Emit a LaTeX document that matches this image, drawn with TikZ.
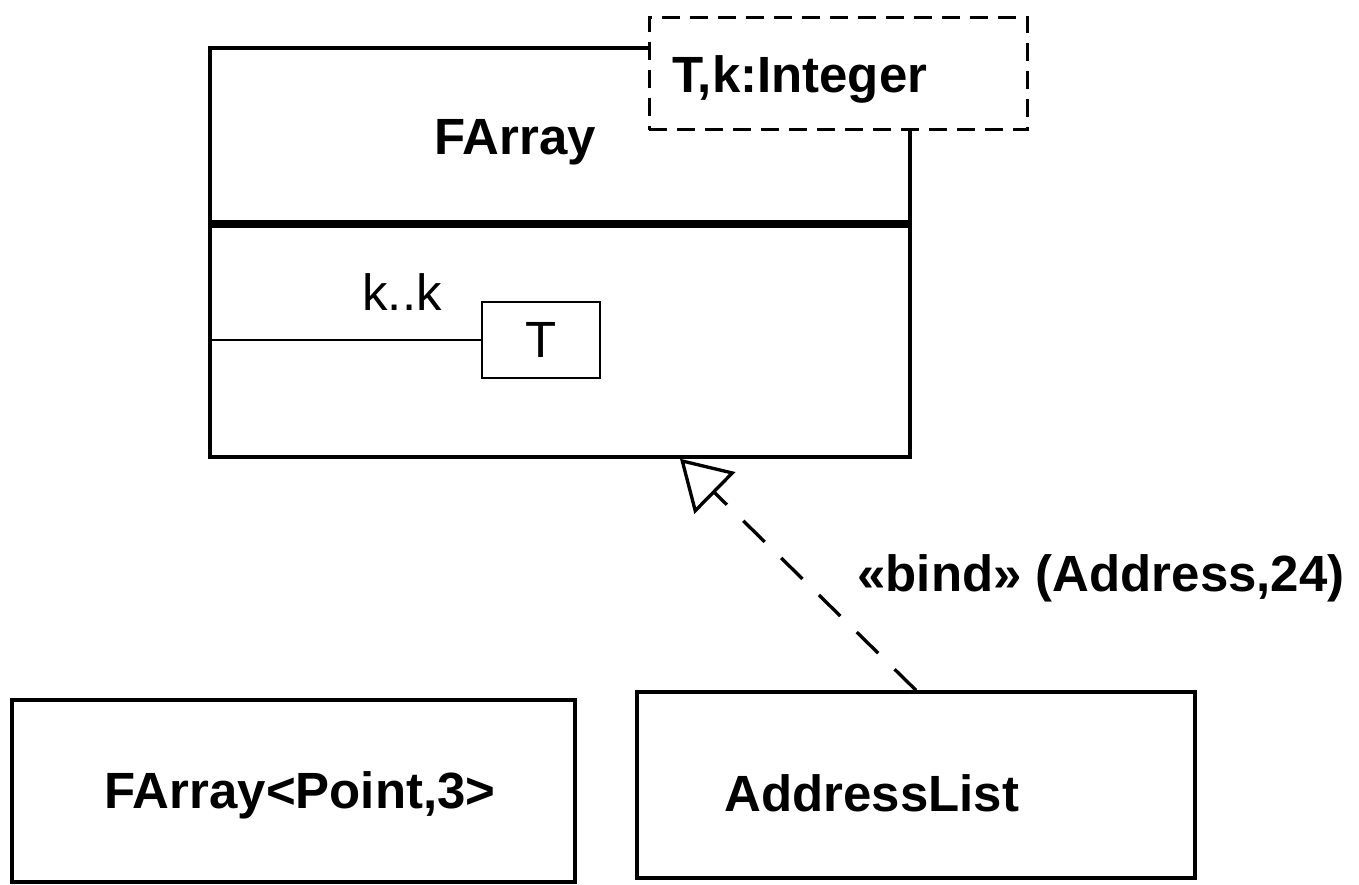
\documentclass[tikz,border=0pt]{standalone}
\usepackage{fontspec}
\setmainfont{Liberation Sans}
\usetikzlibrary{arrows.meta, positioning}

\tikzset{
  classbox/.style={draw, line width=2pt, inner sep=0pt},
  parambox/.style={draw, line width=1.7pt, dash pattern=on 0.36cm off 0.2cm, fill=white, inner sep=0pt},
  partbox/.style={draw, line width=1.5pt, inner sep=0pt},
  divider/.style={line width=4pt},
  boldtext/.style={font=\fontsize{29}{34}\selectfont\bfseries, inner sep=0pt},
  plaintext/.style={font=\fontsize{29}{34}\selectfont, inner sep=0pt},
  realize/.style={line width=1.9pt, dash pattern=on 0.6cm off 0.46cm,
    -{Triangle[open, length=0.98cm, width=1.16cm, line width=1.9pt]}}
}

\begin{document}
\begin{tikzpicture}[x=0.02cm, y=-0.02cm]
    \useasboundingbox (0,0) rectangle (1359,885);

    % template class
    \node [classbox, minimum width=14cm, minimum height=8.18cm] (FArray) at (560, 252.5) {};
    \draw [divider] (FArray.west |- 0,224) -- (FArray.east |- 0,224);
    \node [boldtext] (FArrayName) at (515, 142) {FArray};

    \node [parambox, minimum width=7.58cm, minimum height=2.26cm] (Params) at (838.5, 73.5) {};
    \node [boldtext, anchor=west] (ParamText) at (672, 79) {T,k:Integer};

    % part T
    \node [partbox, minimum width=2.36cm, minimum height=1.52cm] (PartT) at (541, 340) {};
    \node [plaintext] (PartName) at (PartT) {T};
    \node [plaintext] (Mult) at (402, 292) {k..k};
    \draw [line width=1.2pt] (FArray.west |- PartT.west) -- (PartT.west);

    % bound classes
    \node [classbox, minimum width=11.26cm, minimum height=3.64cm] (FArrayPoint) at (293.5, 791) {};
    \node [boldtext] (FArrayPointName) at (300, 795) {FArray<Point,3>};

    \node [classbox, minimum width=11.16cm, minimum height=3.72cm] (AddressList) at (916, 785) {};
    \node [boldtext] (AddressListName) at (872, 793) {AddressList};

    \draw [realize] (AddressList.north) -- ([xshift=2.4cm]FArray.south);
    \node [boldtext] (BindLabel) at (1101, 578) {«bind» (Address,24)};
\end{tikzpicture}
\end{document}
